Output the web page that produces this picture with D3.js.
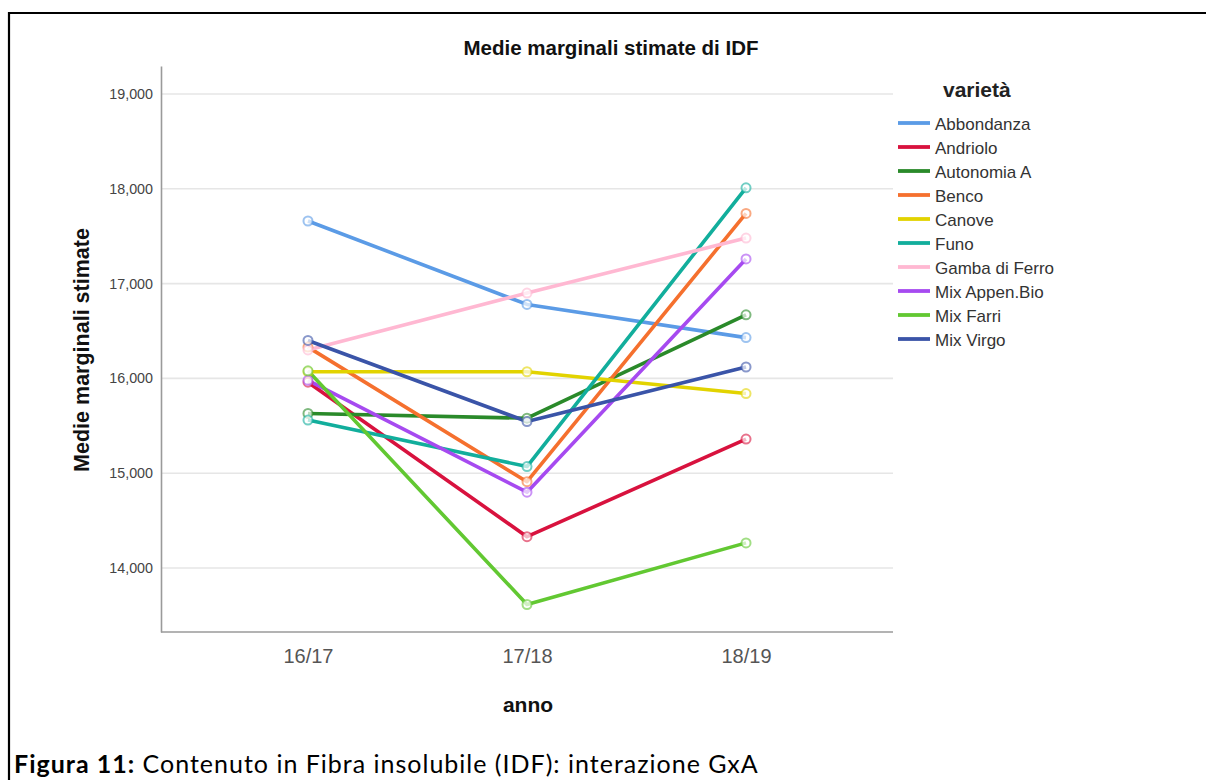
<!DOCTYPE html>
<html>
<head>
<meta charset="utf-8">
<script src="https://cdn.jsdelivr.net/npm/d3@7"></script>
<style>
  html, body { margin: 0; padding: 0; background: #fff; }
  svg { display: block; }
</style>
</head>
<body>
<svg id="chart" width="1206" height="780"></svg>
<script>
const years = ["16/17", "17/18", "18/19"];
const varieties = ["Abbondanza", "Andriolo", "Autonomia A", "Benco", "Canove", "Funo", "Gamba di Ferro", "Mix Appen.Bio", "Mix Farri", "Mix Virgo"];
const abbondanza = [17660, 16780, 16430];
const andriolo = [15960, 14330, 15360];
const autonomiaA = [15630, 15580, 16670];
const benco = [16330, 14910, 17740];
const canove = [16070, 16070, 15840];
const funo = [15560, 15070, 18010];
const gambaDiFerro = [16300, 16900, 17480];
const mixAppenBio = [15980, 14800, 17260];
const mixFarri = [16080, 13615, 14265];
const mixVirgo = [16400, 15545, 16120];
const seriesValues = [abbondanza, andriolo, autonomiaA, benco, canove, funo, gambaDiFerro, mixAppenBio, mixFarri, mixVirgo];
const colors = ["#5b9be6", "#d8123e", "#2a8a2a", "#f5702e", "#e2d300", "#12ae9c", "#ffb8d2", "#a64af0", "#62c832", "#3a54a8"];
const yTicks = [14000, 15000, 16000, 17000, 18000, 19000];

const svg = d3.select("#chart");
const sans = "'Liberation Sans', Arial, sans-serif";

// frame (left and top edges)
svg.append("line").attr("x1", 9).attr("x2", 1206).attr("y1", 13).attr("y2", 13)
  .attr("stroke", "#000").attr("stroke-width", 2.2);
svg.append("line").attr("x1", 9).attr("x2", 9).attr("y1", 12).attr("y2", 780)
  .attr("stroke", "#000").attr("stroke-width", 2.2);

const x = d3.scalePoint().domain(years).range([161, 893]).padding(0.671);
const y = d3.scaleLinear().domain([13325, 19295]).range([632, 66]);

// grid
svg.append("g").selectAll("line").data(yTicks).join("line")
  .attr("x1", 162).attr("x2", 893)
  .attr("y1", d => y(d)).attr("y2", d => y(d))
  .attr("stroke", "#e6e6e6").attr("stroke-width", 1.6);

// y axis
const yAxis = svg.append("g").attr("transform", "translate(161,0)")
  .call(d3.axisLeft(y).tickValues(yTicks).tickFormat(d3.format(",")).tickSize(0).tickPadding(8));
yAxis.select(".domain").attr("stroke", "#9a9a9a").attr("stroke-width", 1.6);
yAxis.selectAll("text").attr("font-family", sans).attr("font-size", 14.3).attr("fill", "#444");

// x axis
const xAxis = svg.append("g").attr("transform", "translate(0,632)")
  .call(d3.axisBottom(x).tickSize(0).tickPadding(17));
xAxis.select(".domain").attr("stroke", "#9a9a9a").attr("stroke-width", 1.6).attr("d", "M161,0H893");
xAxis.selectAll("text").attr("font-family", sans).attr("font-size", 20).attr("fill", "#555");

// lines
const line = d3.line().x((d, i) => x(years[i])).y(d => y(d));
const g = svg.append("g");
seriesValues.forEach((vals, k) => {
  g.append("path").attr("d", line(vals)).attr("fill", "none")
    .attr("stroke", colors[k]).attr("stroke-width", 3.6).attr("stroke-linejoin", "round");
});
seriesValues.forEach((vals, k) => {
  g.append("g").selectAll("circle").data(vals).join("circle")
    .attr("cx", (d, i) => x(years[i])).attr("cy", d => y(d)).attr("r", 4.5)
    .attr("fill", "#fff").attr("fill-opacity", 0.7)
    .attr("stroke", colors[k]).attr("stroke-opacity", 0.6).attr("stroke-width", 2);
});

// titles
svg.append("text").attr("x", 611).attr("y", 54.5).attr("text-anchor", "middle")
  .attr("font-family", sans).attr("font-weight", "bold").attr("font-size", 20.5).attr("fill", "#111")
  .text("Medie marginali stimate di IDF");
svg.append("text").attr("transform", "translate(88.5,350) rotate(-90)").attr("text-anchor", "middle")
  .attr("font-family", sans).attr("font-weight", "bold").attr("font-size", 21.5).attr("fill", "#111")
  .text("Medie marginali stimate");
svg.append("text").attr("x", 528).attr("y", 712).attr("text-anchor", "middle")
  .attr("font-family", sans).attr("font-weight", "bold").attr("font-size", 21).attr("fill", "#111")
  .text("anno");

// legend
svg.append("text").attr("x", 943).attr("y", 97)
  .attr("font-family", sans).attr("font-weight", "bold").attr("font-size", 21).attr("fill", "#222")
  .text("varietà");
const leg = svg.append("g");
varieties.forEach((name, k) => {
  const ly = 123 + k * 24;
  leg.append("line").attr("x1", 898).attr("x2", 930).attr("y1", ly).attr("y2", ly)
    .attr("stroke", colors[k]).attr("stroke-width", 3.8);
  leg.append("text").attr("x", 935).attr("y", ly + 7)
    .attr("font-family", sans).attr("font-size", 17).attr("fill", "#333")
    .text(name);
});

// caption
const cap = svg.append("text").attr("x", 14).attr("y", 773)
  .attr("font-family", "Lato, 'Open Sans', sans-serif").attr("font-size", 25).attr("fill", "#000")
  .attr("letter-spacing", 1);
cap.append("tspan").attr("font-weight", "bold").text("Figura 11:");
cap.append("tspan").text(" Contenuto in Fibra insolubile (IDF): interazione GxA");
</script>
</body>
</html>
